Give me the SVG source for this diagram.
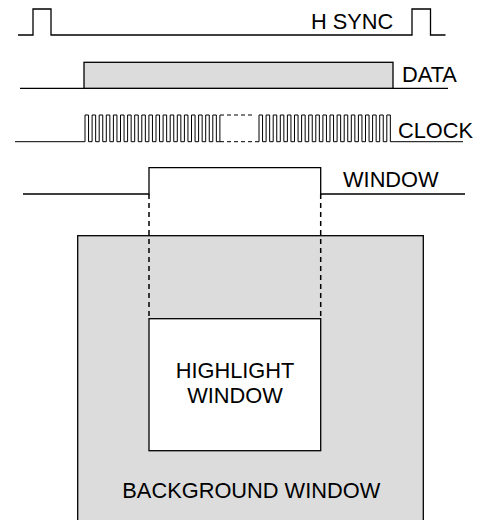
<svg xmlns="http://www.w3.org/2000/svg" width="483" height="520" viewBox="0 0 483 520">
<style>
.sig{fill:none;stroke:#000;stroke-width:1.3}
.clk{fill:none;stroke:#000;stroke-width:1}
.dash{fill:none;stroke:#000;stroke-width:1.5;stroke-dasharray:5,4}
.dclk{fill:none;stroke:#000;stroke-width:1;stroke-dasharray:4,3}
.box{fill:#dcdcdc;stroke:#000;stroke-width:1.3}
.lbl{font-family:"Liberation Sans",Arial,sans-serif;font-size:21.8px;fill:#000}
</style>
<rect width="483" height="520" fill="#fff"/>
<g id="background">
<rect class="box" x="77.7" y="235.7" width="345.6" height="300"/>
<text class="lbl" x="251.3" y="498" text-anchor="middle">BACKGROUND WINDOW</text>
</g>
<g id="highlight">
<rect x="149" y="318.7" width="171.7" height="132" fill="#fff" stroke="#000" stroke-width="1.3"/>
<text class="lbl" x="235" y="378" text-anchor="middle">HIGHLIGHT</text>
<text class="lbl" x="235" y="402.7" text-anchor="middle">WINDOW</text>
</g>
<g id="hsync">
<path class="sig" d="M18,35H33V9H51V35H412V9H430.5V35H445.5"/>
<text class="lbl" x="311" y="29">H SYNC</text>
</g>
<g id="data">
<path class="sig" d="M20,88.3H448"/>
<rect class="box" x="84" y="62.3" width="309" height="26"/>
<text class="lbl" x="402" y="81.7">DATA</text>
</g>
<g id="clock">
<path class="clk" d="M15,141.7H85v-26.7h3.55v26.7h3.55v-26.7h3.55v26.7h3.55v-26.7h3.55v26.7h3.55v-26.7h3.55v26.7h3.55v-26.7h3.55v26.7h3.55v-26.7h3.55v26.7h3.55v-26.7h3.55v26.7h3.55v-26.7h3.55v26.7h3.55v-26.7h3.55v26.7h3.55v-26.7h3.55v26.7h3.55v-26.7h3.55v26.7h3.55v-26.7h3.55v26.7h3.55v-26.7h3.55v26.7h3.55v-26.7h3.55v26.7h3.55v-26.7h3.55v26.7h3.55v-26.7h3.55v26.7h3.55v-26.7h3.55v26.7h3.55v-26.7h3.55v26.7h3.55v-26.7h3.55v26.7h3.55v-26.7"/>
<path class="dclk" d="M220,115H254M220,141.7H259"/>
<path class="clk" d="M259,141.7v-26.7h3.55v26.7h3.55v-26.7h3.55v26.7h3.55v-26.7h3.55v26.7h3.55v-26.7h3.55v26.7h3.55v-26.7h3.55v26.7h3.55v-26.7h3.55v26.7h3.55v-26.7h3.55v26.7h3.55v-26.7h3.55v26.7h3.55v-26.7h3.55v26.7h3.55v-26.7h3.55v26.7h3.55v-26.7h3.55v26.7h3.55v-26.7h3.55v26.7h3.55v-26.7h3.55v26.7h3.55v-26.7h3.55v26.7h3.55v-26.7h3.55v26.7h3.55v-26.7h3.55v26.7h3.55v-26.7h3.55v26.7h3.55v-26.7h3.55v26.7h3.55v-26.7h3.55v26.7h3.55H463"/>
<text class="lbl" x="398" y="137.5">CLOCK</text>
</g>
<g id="window">
<path class="sig" d="M23,194H149V167.7H320.7V194H465"/>
<text class="lbl" x="343" y="186.7">WINDOW</text>
</g>
<g id="connectors">
<path class="dash" d="M149,194V318.7M320.7,194V318.7"/>
</g>
</svg>
